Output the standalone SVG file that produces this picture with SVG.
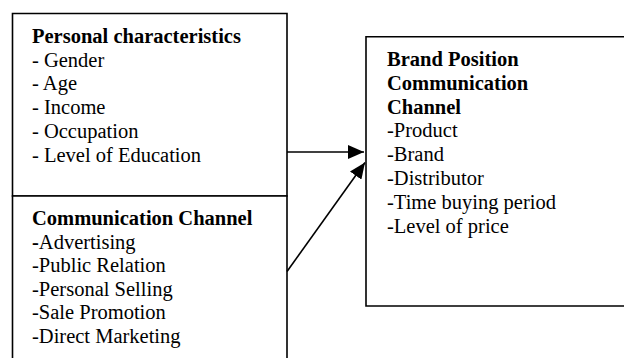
<svg xmlns="http://www.w3.org/2000/svg" width="624" height="358" viewBox="0 0 624 358">
<style>
.box{fill:#fff;stroke:#000;stroke-width:1.6}
.t{font-family:"Liberation Serif","Times New Roman",serif;font-size:20.5px;fill:#000}
.b{font-weight:bold}
.c{stroke:#000;stroke-width:1.6;fill:none}
</style>
<defs>
<marker id="ah" markerUnits="userSpaceOnUse" markerWidth="16" markerHeight="14" refX="16" refY="7" orient="auto">
<path d="M0,0 L16,7 L0,14 Z" fill="#000"/>
</marker>
</defs>
<g id="personal">
<path class="box" d="M12.5,13.5 H287 V196 H12.5 Z"/>
<text class="t" x="32" y="43"><tspan class="b">Personal characteristics</tspan><tspan x="32" dy="23.7">- Gender</tspan><tspan x="32" dy="23.7">- Age</tspan><tspan x="32" dy="23.7">- Income</tspan><tspan x="32" dy="23.7">- Occupation</tspan><tspan x="32" dy="23.7">- Level of Education</tspan></text>
</g>
<g id="communication">
<path class="box" d="M12.5,359 V196 H287 V359"/>
<text class="t" x="32" y="225"><tspan class="b">Communication Channel</tspan><tspan x="32" dy="23.6" class="b">-</tspan><tspan>Advertising</tspan><tspan x="32" dy="23.6">-Public Relation</tspan><tspan x="32" dy="23.6">-Personal Selling</tspan><tspan x="32" dy="23.6">-Sale Promotion</tspan><tspan x="32" dy="23.6">-Direct Marketing</tspan></text>
</g>
<g id="brand">
<path class="box" d="M626,36.7 H366 V306 H626"/>
<text class="t" x="387" y="66"><tspan class="b">Brand Position</tspan><tspan x="387" dy="23.8" class="b">Communication</tspan><tspan x="387" dy="23.8" class="b">Channel</tspan><tspan x="387" dy="23.8">-Product</tspan><tspan x="387" dy="23.8">-Brand</tspan><tspan x="387" dy="23.8">-Distributor</tspan><tspan x="387" dy="23.8">-Time buying period</tspan><tspan x="387" dy="23.8">-Level of price</tspan></text>
</g>
<g id="connectors">
<line class="c" x1="287" y1="152" x2="364" y2="152" marker-end="url(#ah)"/>
<line class="c" x1="287" y1="271.5" x2="365" y2="162.5" marker-end="url(#ah)"/>
</g>
</svg>
